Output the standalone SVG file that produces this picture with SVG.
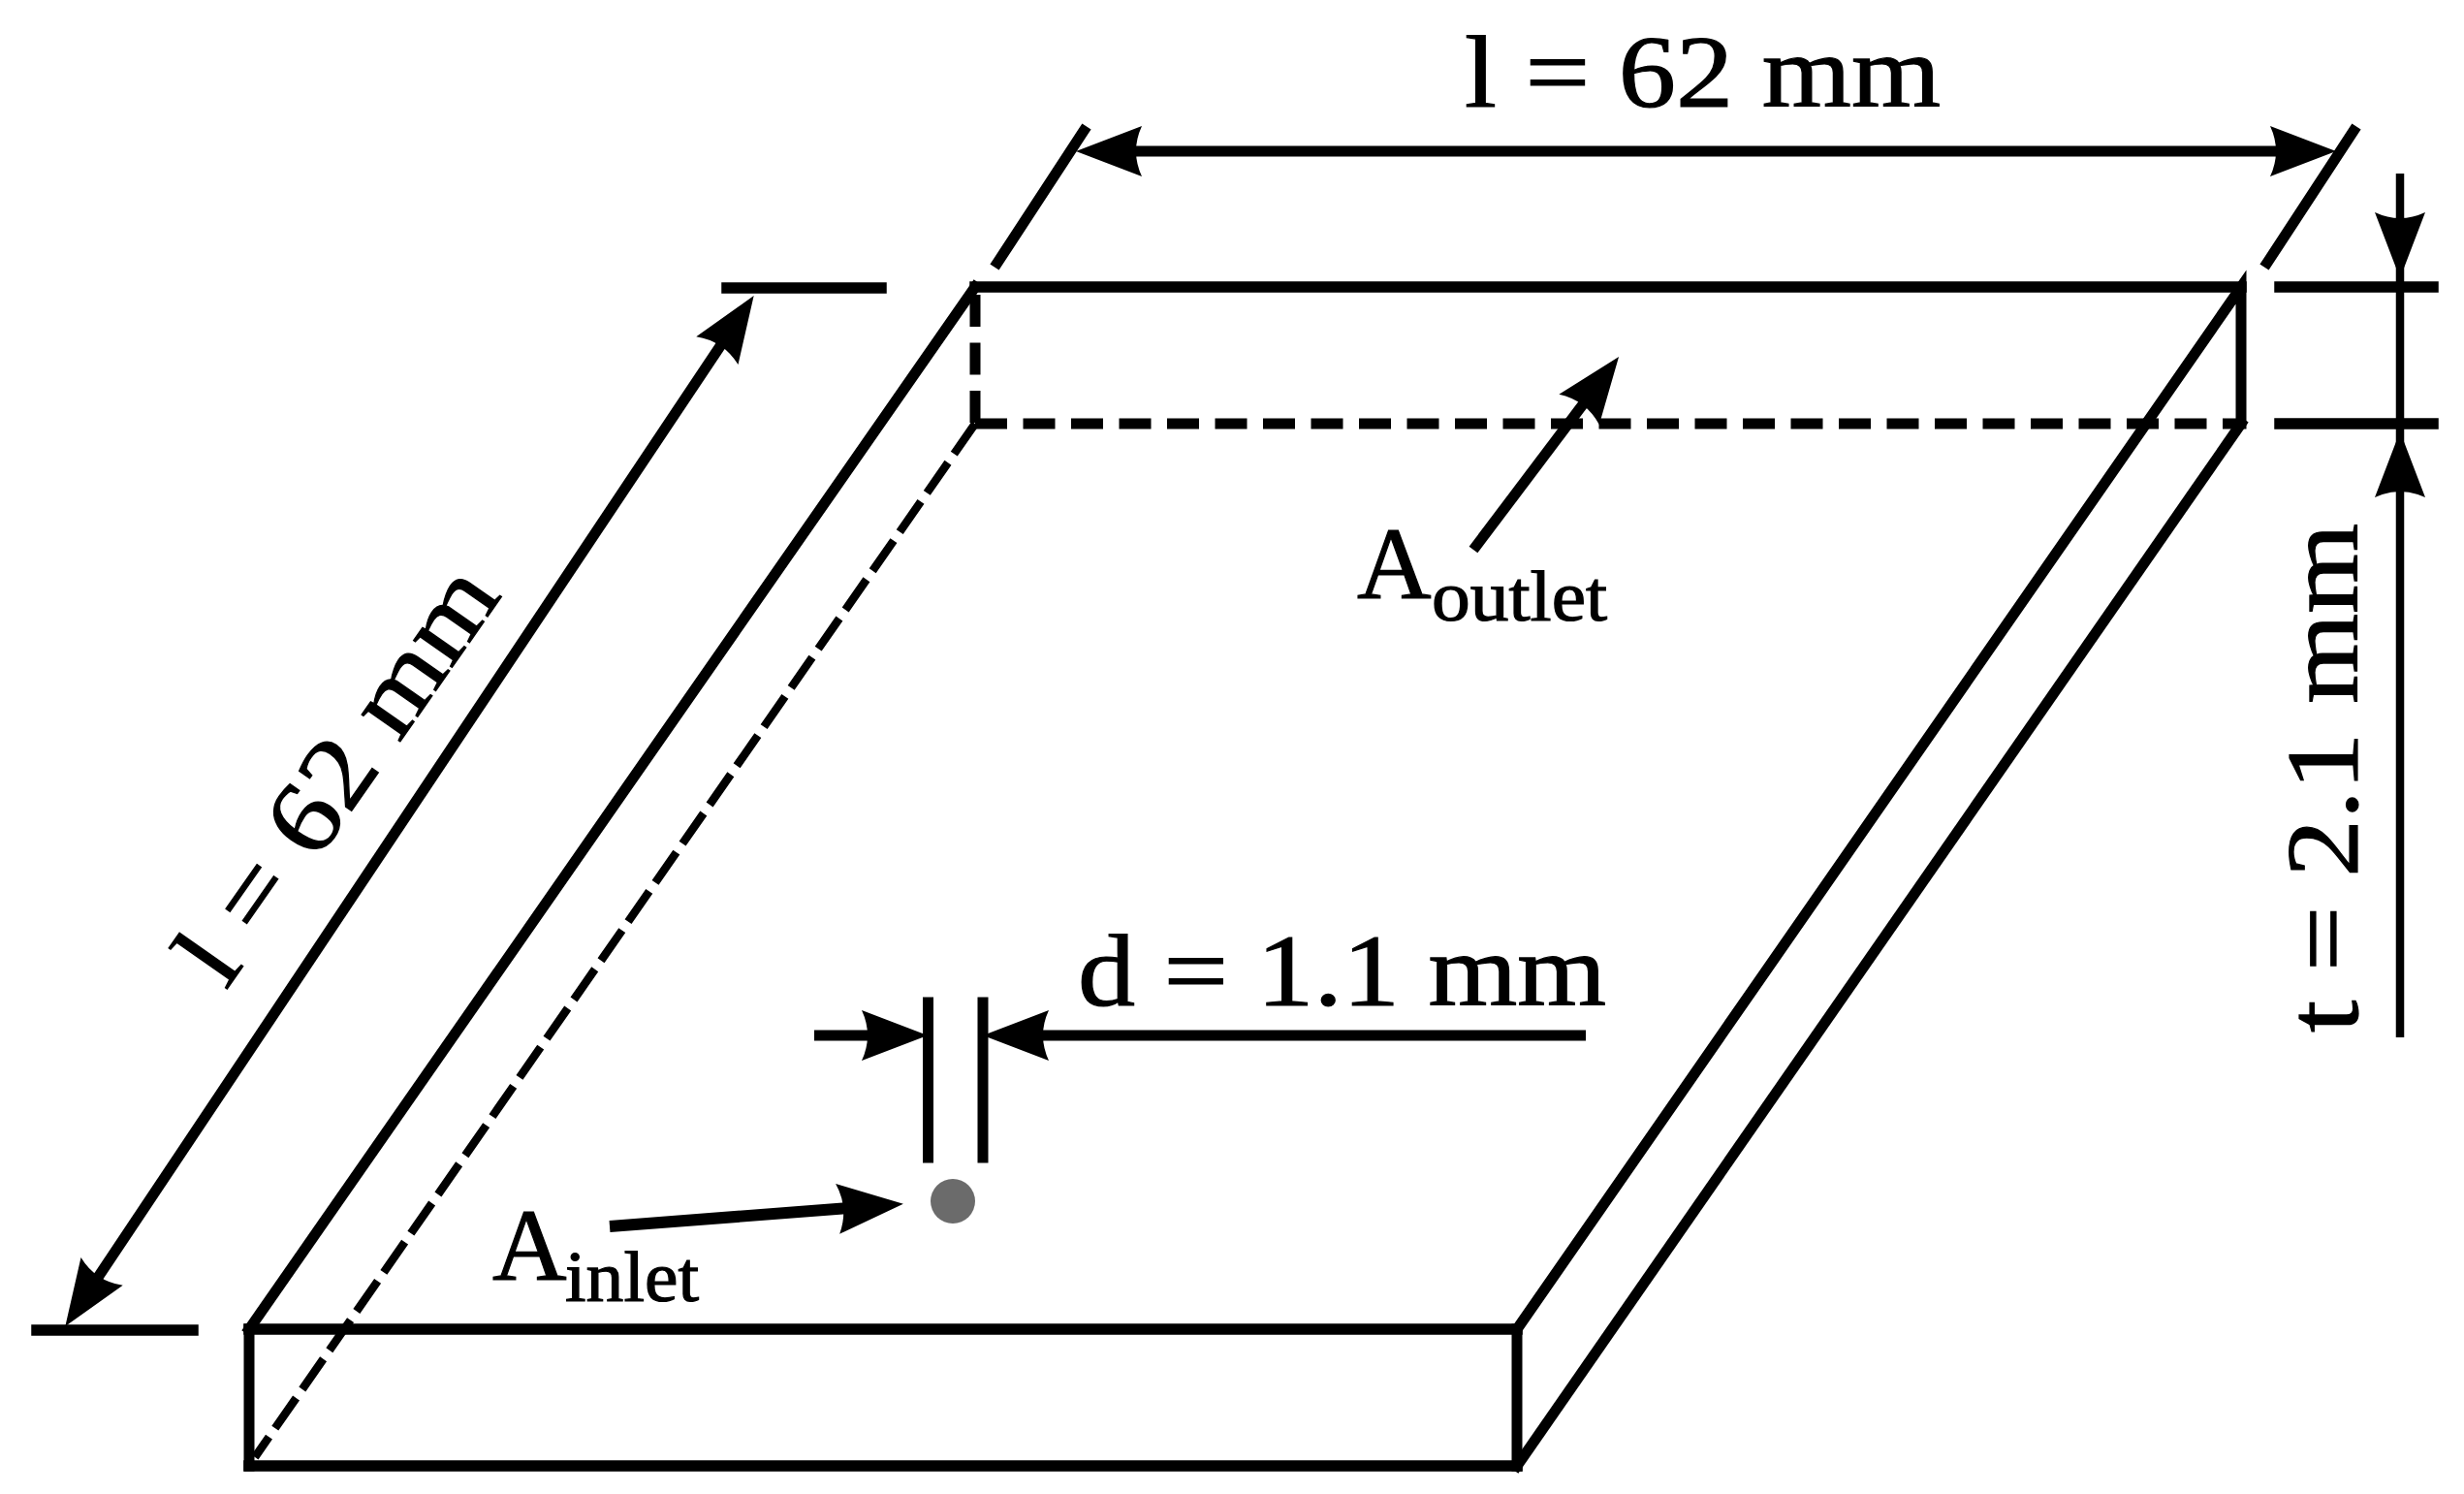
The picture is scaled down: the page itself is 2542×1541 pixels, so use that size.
<svg xmlns="http://www.w3.org/2000/svg" width="2542" height="1541" viewBox="0 0 2542 1541">
<style>
.e{fill:none;stroke:#000;stroke-width:11;stroke-linecap:square}
.h{stroke-width:11.5}
.d{fill:none;stroke:#000;stroke-width:11;stroke-dasharray:33 16.5}
.dd{fill:none;stroke:#000;stroke-width:8.5;stroke-dasharray:38 11}
.a{fill:none;stroke:#000;stroke-width:11;marker-end:url(#head)}
.b{marker-start:url(#head)}
.t{stroke-width:8.5;fill:none;stroke:#000}
text{font-family:"Liberation Serif","Times New Roman",serif;fill:#000;stroke:#000;stroke-width:1.2}
.m{font-size:106px}
.s{font-size:74px}
</style>
<defs>
<marker id="head" markerUnits="userSpaceOnUse" markerWidth="72" markerHeight="54" viewBox="0 0 72 54" refX="40" refY="27" orient="auto-start-reverse">
<path d="M2 1L70 27L2 53Q14 27 2 1Z" fill="#000"/>
</marker>
</defs>
<rect width="2542" height="1541" fill="#fff"/>
<g id="plate">
<path class="e" d="M257 1371L1006 296"/>
<path class="e" d="M1565 1371L2312 296V437"/>
<path class="e" d="M2312 437L1565 1512"/>
<path class="e" d="M257 1371V1512M1565 1371V1512"/>
<path class="e h" d="M1006 296H2312M257 1371H1565M257 1512H1565"/>
<path class="d" d="M1006 304V437"/>
<path class="d" d="M1006 437H2312"/>
<path class="dd" d="M1006 437L263 1503"/>
</g>
<g id="inlet-hole"><circle cx="983" cy="1239" r="23" fill="#6b6b6b"/></g>
<g id="connectors">
<path class="e" d="M1029 271L1118 135M2339 271L2428 135"/>
<path class="a b" d="M1140 156H2380"/>
<path class="e h" stroke-linecap="butt" d="M2352 296H2510M2352 437H2510M750 297H909M38 1372H199"/>
<path class="a b" d="M761 330L84 1343"/>
<path class="t" d="M2476 179V257" marker-end="url(#head)"/>
<path class="t" d="M2476 257V475"/>
<path class="t" d="M2476 1070V475" marker-end="url(#head)"/>
<path class="a" d="M1636 1068H1044"/>
<path class="a" d="M840 1068H927"/>
<path class="e" d="M957.5 1034V1194M1014 1034V1194"/>
<path class="a" style="stroke-width:12" d="M629 1265L902 1244"/>
<path class="a" d="M1520 567L1652 392"/>
</g>
<g id="labels">
<text class="m" x="1511" y="110" textLength="491" lengthAdjust="spacingAndGlyphs">l = 62 mm</text>
<text class="m" x="1112" y="1037" textLength="545" lengthAdjust="spacingAndGlyphs">d = 1.1 mm</text>
<text class="m" x="1400" y="617">A</text>
<text class="s" x="1477" y="640" textLength="181" lengthAdjust="spacingAndGlyphs">outlet</text>
<text class="m" x="508" y="1320">A</text>
<text class="s" x="583" y="1342" textLength="138" lengthAdjust="spacingAndGlyphs">inlet</text>
<text class="m" transform="translate(2432 1065) rotate(-90)" textLength="525" lengthAdjust="spacingAndGlyphs">t = 2.1 mm</text>
<text class="m" transform="translate(233 1022) rotate(-55)" textLength="498" lengthAdjust="spacingAndGlyphs">l = 62 mm</text>
</g>
</svg>
